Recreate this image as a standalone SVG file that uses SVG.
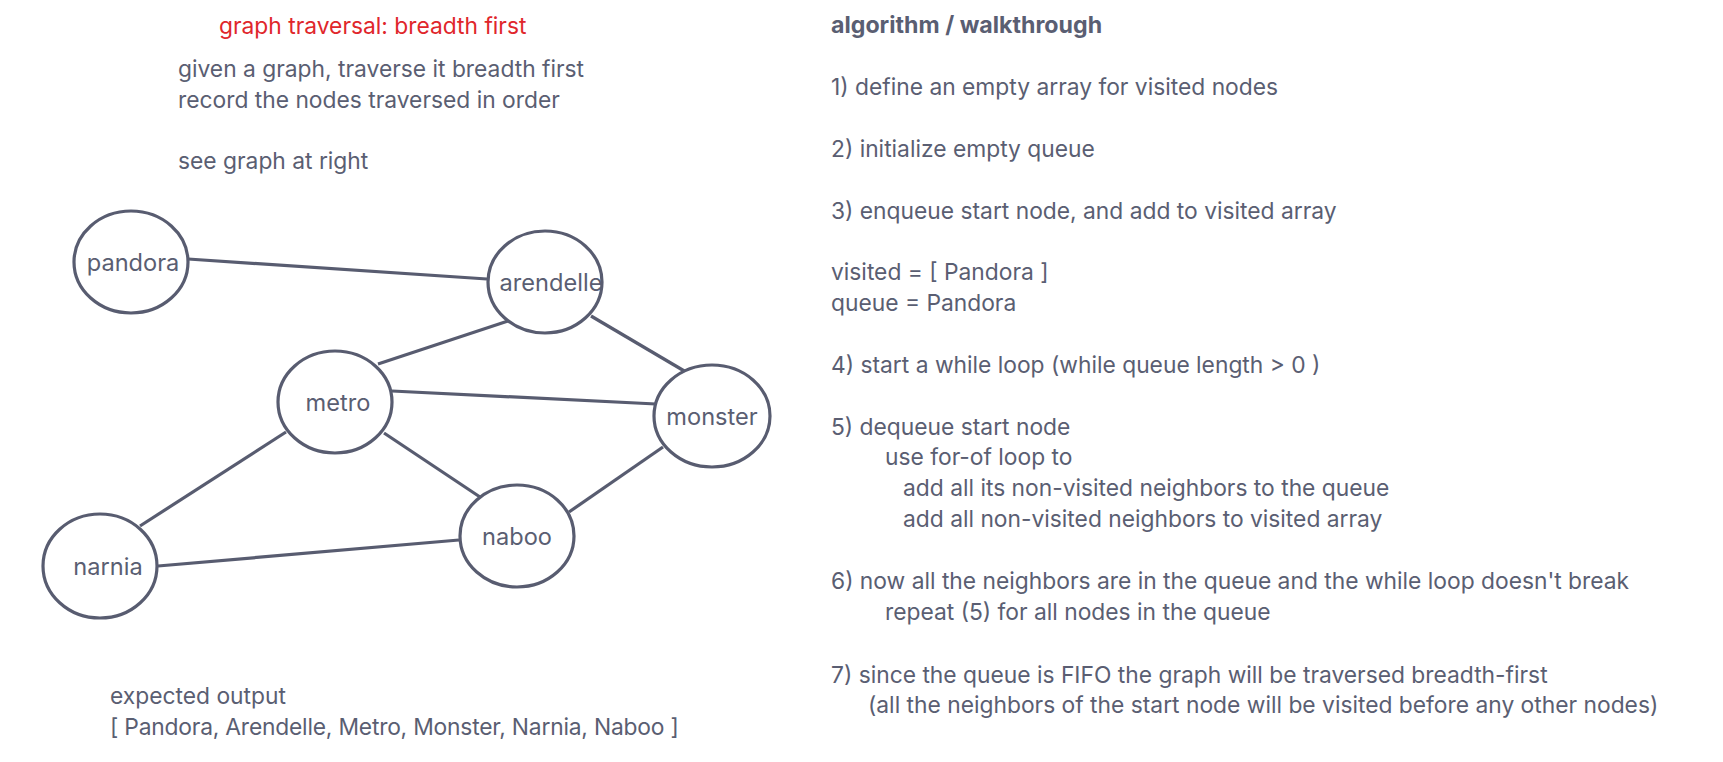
<svg xmlns="http://www.w3.org/2000/svg" width="1723" height="762" viewBox="0 0 1723 762">
<style>
text{font-family:Inter,"Noto Sans",sans-serif;font-size:22.8px;fill:#5a5e72}
.title{fill:#e0262b}
.bold{font-weight:700;font-size:23.2px}
.lbl{text-anchor:middle;font-size:23.6px}
.node ellipse{fill:#fff;stroke:#585c70;stroke-width:3.2}
.edges line{stroke:#585c70;stroke-width:3.2}
</style>
<rect width="1723" height="762" fill="#fff"/>
<g id="intro">
<text class="title" x="219" y="34">graph traversal: breadth first</text>
<text x="178" y="77">given a graph, traverse it breadth first</text>
<text x="178" y="108">record the nodes traversed in order</text>
<text x="178" y="169">see graph at right</text>
</g>
<g class="edges" id="connectors">
<line x1="188" y1="259" x2="487" y2="279"/>
<line x1="508" y1="321" x2="378" y2="364"/>
<line x1="591" y1="316" x2="686" y2="372"/>
<line x1="392" y1="391" x2="656" y2="404"/>
<line x1="384" y1="433" x2="480" y2="497"/>
<line x1="286" y1="432" x2="140" y2="526"/>
<line x1="663" y1="447" x2="569" y2="512"/>
<line x1="158" y1="566" x2="459" y2="540"/>
</g>
<g class="node" id="pandora"><ellipse cx="131" cy="262" rx="57" ry="51"/><text class="lbl" x="133" y="271">pandora</text></g>
<g class="node" id="arendelle"><ellipse cx="545" cy="282" rx="57" ry="51"/><text class="lbl" x="551" y="291">arendelle</text></g>
<g class="node" id="metro"><ellipse cx="335" cy="402" rx="57" ry="51"/><text class="lbl" x="338" y="411">metro</text></g>
<g class="node" id="monster"><ellipse cx="712" cy="416" rx="58" ry="51"/><text class="lbl" x="712" y="425">monster</text></g>
<g class="node" id="naboo"><ellipse cx="517" cy="536" rx="57" ry="51"/><text class="lbl" x="517" y="545">naboo</text></g>
<g class="node" id="narnia"><ellipse cx="100" cy="566" rx="57" ry="52"/><text class="lbl" x="108" y="575">narnia</text></g>
<g id="output">
<text x="110" y="704">expected output</text>
<text x="110" y="735" letter-spacing="-0.2">[ Pandora, Arendelle, Metro, Monster, Narnia, Naboo ]</text>
</g>
<g id="algorithm">
<text class="bold" x="831" y="33">algorithm / walkthrough</text>
<text x="831" y="95">1) define an empty array for visited nodes</text>
<text x="831" y="157">2) initialize empty queue</text>
<text x="831" y="219">3) enqueue start node, and add to visited array</text>
<text x="831" y="280">visited = [ Pandora ]</text>
<text x="831" y="311">queue = Pandora</text>
<text x="831" y="373">4) start a while loop (while queue length &gt; 0 )</text>
<text x="831" y="435">5) dequeue start node</text>
<text x="885" y="465">use for-of loop to</text>
<text x="903" y="496">add all its non-visited neighbors to the queue</text>
<text x="903" y="527">add all non-visited neighbors to visited array</text>
<text x="831" y="589">6) now all the neighbors are in the queue and the while loop doesn't break</text>
<text x="885" y="620">repeat (5) for all nodes in the queue</text>
<text x="831" y="683">7) since the queue is FIFO the graph will be traversed breadth-first</text>
<text x="868" y="713">(all the neighbors of the start node will be visited before any other nodes)</text>
</g>
</svg>
